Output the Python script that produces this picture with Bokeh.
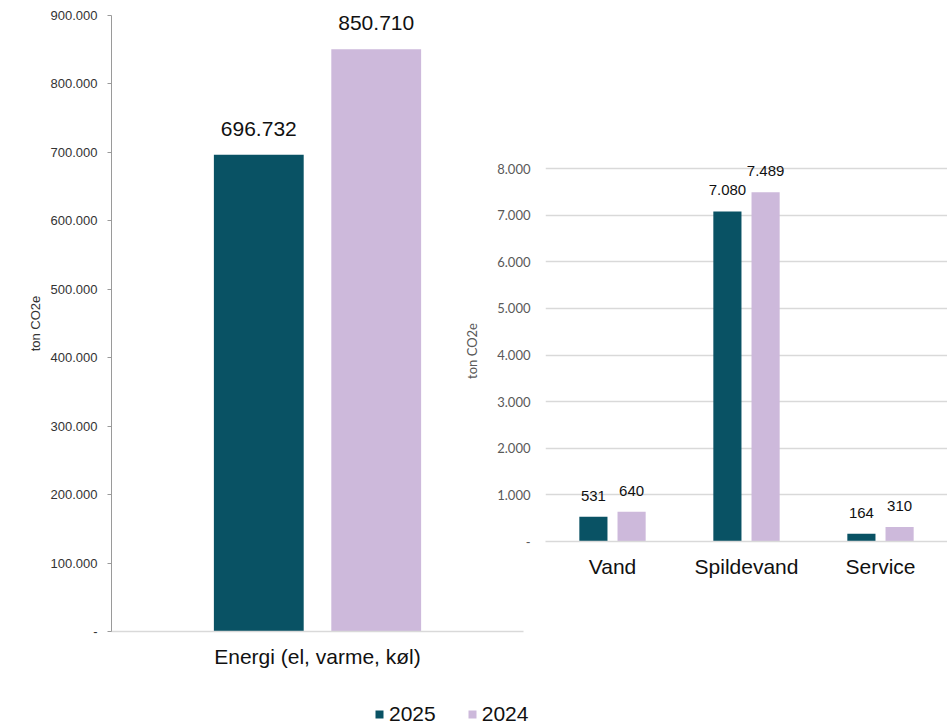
from bokeh.plotting import figure
from bokeh.models import (FactorRange, Range1d, CustomJSTickFormatter, ColumnDataSource,
                          Legend, LegendItem, FixedTicker)
from bokeh.transform import dodge
from bokeh.layouts import row, column
from bokeh.embed import file_html
from bokeh.resources import INLINE
from bokeh.core.properties import value

# ---------------- data ----------------
years = ["2025", "2024"]
left_categories = ["Energi (el, varme, køl)"]
left_2025 = [696732]
left_2024 = [850710]
right_categories = ["Vand", "Spildevand", "Service"]
right_2025 = [531, 7080, 164]
right_2024 = [640, 7489, 310]
left_ticks = [0, 100000, 200000, 300000, 400000, 500000, 600000, 700000, 800000, 900000]
right_ticks = [0, 1000, 2000, 3000, 4000, 5000, 6000, 7000, 8000]
y_label = "ton CO2e"

# ---------------- style ----------------
C2025 = "#095264"
C2024 = "#CDB9DB"
ARIAL = value("Liberation Sans")
GOTHIC = "Lato"


def fmt(v):
    return f"{v:,}".replace(",", ".")


tick_fmt = CustomJSTickFormatter(code="""
if (Math.abs(tick) < 1e-9) { return '-'; }
return Math.round(tick).toString().replace(/\\B(?=(\\d{3})+(?!\\d))/g, '.');
""")

OFF = 0.1425

# ---------------- left chart ----------------
srcL = ColumnDataSource(dict(cat=left_categories, a=left_2025, b=left_2024,
                             la=[fmt(v) for v in left_2025], lb=[fmt(v) for v in left_2024]))
pL = figure(x_range=FactorRange(*left_categories), y_range=Range1d(0, 900000),
            width=531, height=690, output_backend="svg", toolbar_location=None,
            min_border_left=111, min_border_right=8, min_border_top=15, min_border_bottom=59)
pL.vbar(x=dodge("cat", -OFF, range=pL.x_range), top="a", width=0.218, source=srcL,
        fill_color=C2025, line_color=None)
pL.vbar(x=dodge("cat", OFF, range=pL.x_range), top="b", width=0.218, source=srcL,
        fill_color=C2024, line_color=None)
for col, lab, off in (("a", "la", -OFF), ("b", "lb", OFF)):
    pL.text(x=dodge("cat", off, range=pL.x_range), y=col, text=lab,
            source=srcL, text_align="center", text_baseline="middle", y_offset=-26,
            text_font=ARIAL, text_font_size="21px", text_color="#111111")

pL.outline_line_color = None
pL.xgrid.grid_line_color = None
pL.ygrid.grid_line_color = None
ya = pL.yaxis[0]
ya.ticker = FixedTicker(ticks=left_ticks)
ya.formatter = tick_fmt
ya.axis_line_color = "#9a9a9a"
ya.major_tick_line_color = "#9a9a9a"
ya.major_tick_out = 4
ya.major_tick_in = 0
ya.minor_tick_line_color = None
ya.major_label_text_font = "Liberation Sans"
ya.major_label_text_font_size = "13px"
ya.major_label_text_color = "#333333"
ya.major_label_standoff = 10
ya.axis_label = y_label
ya.axis_label_text_font = "Liberation Sans"
ya.axis_label_text_font_size = "13px"
ya.axis_label_text_font_style = "normal"
ya.axis_label_text_color = "#333333"
ya.axis_label_standoff = 5
xa = pL.xaxis[0]
xa.axis_line_color = "#d9d9d9"
xa.axis_line_width = 1.5
xa.major_tick_line_color = None
xa.major_label_text_font = "Liberation Sans"
xa.major_label_text_font_size = "21px"
xa.major_label_text_color = "#111111"
xa.major_label_standoff = 7

# ---------------- right chart ----------------
R_TOP_PX, R_ZERO_PX, R_FRAME_TOP = 168, 541, 160
px_per_unit = (R_ZERO_PX - R_TOP_PX) / right_ticks[-1]
r_end = right_ticks[-1] + (R_TOP_PX - R_FRAME_TOP) / px_per_unit

srcR = ColumnDataSource(dict(cat=right_categories, a=right_2025, b=right_2024,
                             la=[fmt(v) for v in right_2025], lb=[fmt(v) for v in right_2024]))
pR = figure(x_range=FactorRange(*right_categories), y_range=Range1d(0, r_end),
            width=487, height=600, output_backend="svg", toolbar_location=None,
            min_border_left=85, min_border_right=0, min_border_top=R_FRAME_TOP,
            min_border_bottom=600 - R_ZERO_PX)
pR.background_fill_color = None
pR.border_fill_color = None
pR.vbar(x=dodge("cat", -OFF, range=pR.x_range), top="a", width=0.21, source=srcR,
        fill_color=C2025, line_color=None)
pR.vbar(x=dodge("cat", OFF, range=pR.x_range), top="b", width=0.21, source=srcR,
        fill_color=C2024, line_color=None)
for col, lab, off in (("a", "la", -OFF), ("b", "lb", OFF)):
    pR.text(x=dodge("cat", off, range=pR.x_range), y=col, text=lab,
            source=srcR, text_align="center", text_baseline="middle", y_offset=-21,
            text_font=ARIAL, text_font_size="15px", text_color="#111111")

pR.outline_line_color = None
pR.xgrid.grid_line_color = None
pR.ygrid.ticker = FixedTicker(ticks=right_ticks)
pR.ygrid.grid_line_color = "#d9d9d9"
pR.ygrid.grid_line_width = 1.5
yb = pR.yaxis[0]
yb.ticker = FixedTicker(ticks=right_ticks)
yb.formatter = tick_fmt
yb.axis_line_color = None
yb.major_tick_line_color = None
yb.major_tick_out = 0
yb.major_tick_in = 0
yb.minor_tick_line_color = None
yb.major_label_text_font = GOTHIC
yb.major_label_text_font_size = "13px"
yb.major_label_text_color = "#595959"
yb.major_label_standoff = 15
yb.axis_label = y_label
yb.axis_label_text_font = GOTHIC
yb.axis_label_text_font_size = "13px"
yb.axis_label_text_font_style = "normal"
yb.axis_label_text_color = "#595959"
yb.axis_label_standoff = 14
xb = pR.xaxis[0]
xb.axis_line_color = "#d9d9d9"
xb.axis_line_width = 1.5
xb.major_tick_line_color = None
xb.major_label_text_font = "Liberation Sans"
xb.major_label_text_font_size = "21px"
xb.major_label_text_color = "#111111"
xb.major_label_standoff = 7

# ---------------- legend (own strip below the charts) ----------------
pLeg = figure(width=947, height=36, output_backend="svg", toolbar_location=None,
              x_axis_type=None, y_axis_type=None, x_range=Range1d(0, 1), y_range=Range1d(0, 1),
              min_border=0)
pLeg.outline_line_color = None
pLeg.background_fill_color = None
pLeg.border_fill_color = None
# legend-only swatches (values lie outside the strip's range, size 0)
mk1 = pLeg.scatter(x="a", y="a", source=srcL, marker="square", size=0,
                   fill_color=C2025, line_color=None)
mk2 = pLeg.scatter(x="b", y="b", source=srcL, marker="square", size=0,
                   fill_color=C2024, line_color=None)
leg = Legend(items=[LegendItem(label=years[0], renderers=[mk1]),
                    LegendItem(label=years[1], renderers=[mk2])],
             orientation="horizontal", location=(369, 0), glyph_width=20, glyph_height=24,
             label_standoff=0, spacing=26, padding=0, margin=0, border_line_color=None,
             background_fill_alpha=0, label_text_font="Liberation Sans",
             label_text_font_size="21px", label_text_color="#111111", label_height=24)
pLeg.add_layout(leg, "center")

colL = column(pL)
colR = column(pR)
colR.margin = (0, 0, 0, -71)
layout = column(row(colL, colR), column(pLeg))
open("out.html", "w").write(file_html(layout, INLINE))
